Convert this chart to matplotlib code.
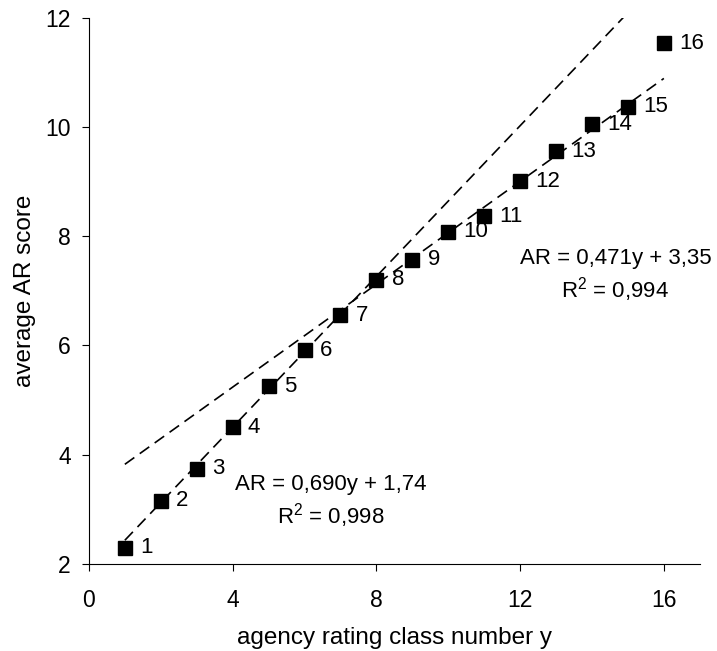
import matplotlib.pyplot as plt
import numpy as np

plt.rcParams['font.family'] = ['Liberation Sans', 'DejaVu Sans']
plt.rcParams['mathtext.fontset'] = 'custom'
plt.rcParams['mathtext.rm'] = 'Liberation Sans'

# rating classes and average AR scores
classes = np.arange(1, 17)
ar_score = [2.29, 3.15, 3.74, 4.50, 5.25, 5.91, 6.55, 7.20,
            7.57, 8.08, 8.36, 9.00, 9.55, 10.05, 10.37, 11.53]

# the two fitted lines (slope, intercept)
fit_low = (0.690, 1.74)
fit_high = (0.471, 3.35)

fig = plt.figure(figsize=(7.17, 6.51), dpi=100)
ax = fig.add_axes([0.124, 0.134, 0.852, 0.839])

xs = np.array([1, 16])
ax.plot(xs, fit_low[0] * xs + fit_low[1], color='black', lw=1.2,
        linestyle=(0, (7, 4)))
ax.plot(xs, fit_high[0] * xs + fit_high[1], color='black', lw=1.2,
        linestyle=(0, (7, 4)))

ax.plot(classes, ar_score, 's', color='black', markersize=10, clip_on=False)

for c, v in zip(classes, ar_score):
    ax.annotate(str(c), (c, v), xytext=(11, 0), textcoords='offset points',
                va='center', ha='left', fontsize=16)

ax.text(6.73, 3.13, "AR = 0,690y + 1,74\nR$^\\mathrm{2}$ = 0,998", ha='center',
        va='center', fontsize=16, linespacing=1.25)
ax.text(14.65, 7.27, "AR = 0,471y + 3,35\nR$^\\mathrm{2}$ = 0,994", ha='center',
        va='center', fontsize=16, linespacing=1.25, clip_on=False)

ax.set_xlim(0, 17)
ax.set_ylim(2, 12)
ax.set_xticks([0, 4, 8, 12, 16])
ax.set_yticks([2, 4, 6, 8, 10, 12])
ax.spines['top'].set_visible(False)
ax.spines['right'].set_visible(False)
ax.tick_params(axis='x', length=5, pad=13, labelsize=16.5)
ax.tick_params(axis='y', length=5, pad=8, labelsize=16.5)

ax.set_xlabel("agency rating class number y", fontsize=17.5, labelpad=11)
ax.set_ylabel("average AR score", fontsize=17.5, labelpad=7)

fig.savefig("out.png", dpi=100)
